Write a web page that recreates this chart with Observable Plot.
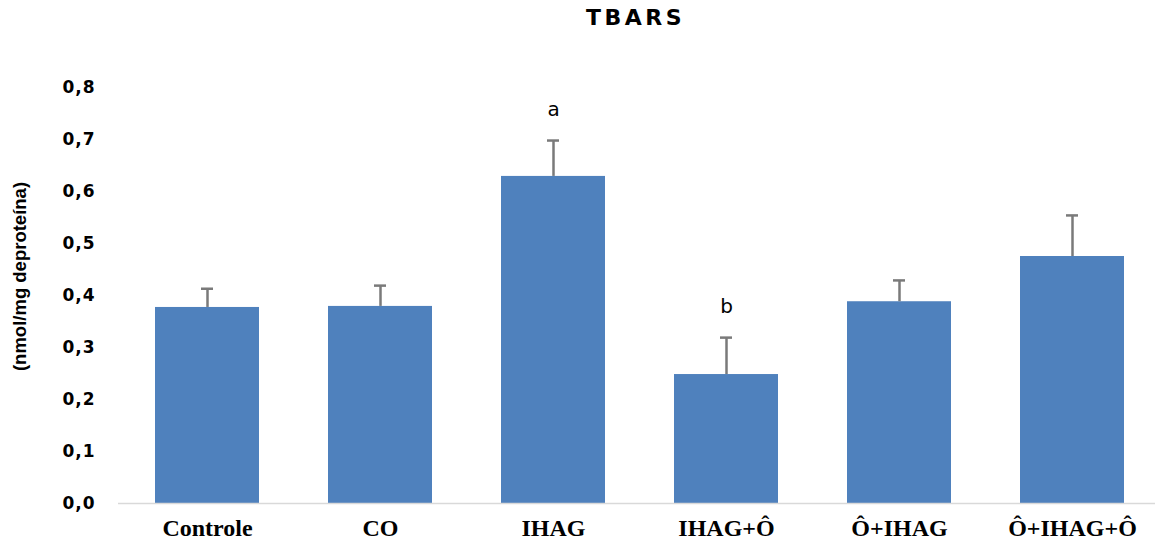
<!DOCTYPE html>
<html>
<head>
<meta charset="utf-8">
<script src="https://cdn.jsdelivr.net/npm/d3@7"></script>
<script src="https://cdn.jsdelivr.net/npm/@observablehq/plot@0.6"></script>
<style>
  html, body { margin: 0; padding: 0; background: #fff; overflow: hidden; }
  #title {
    width: 1155px; height: 40px; line-height: 36px;
    box-sizing: border-box; padding-left: 116px;
    text-align: center;
    font-family: "DejaVu Sans", sans-serif; font-weight: bold; font-size: 22px;
    letter-spacing: 3.5px; color: #000;
  }
  #chart svg { display: block; overflow: visible; }
</style>
</head>
<body>
<div id="title">TBARS</div>
<div id="chart"></div>
<script>
// TBARS per group (nmol/mg de proteína), mean and standard error
const groups = ["Controle", "CO", "IHAG", "IHAG+Ô", "Ô+IHAG", "Ô+IHAG+Ô"];
const means = [0.377, 0.379, 0.629, 0.248, 0.388, 0.475];
const errors = [0.036, 0.040, 0.069, 0.071, 0.041, 0.079];
const signif = ["", "", "a", "b", "", ""];
const yTicks = [0, 0.1, 0.2, 0.3, 0.4, 0.5, 0.6, 0.7, 0.8];
const yLabel = "(nmol/mg deproteína)";

const rows = groups.map((g, i) => ({
  group: g, mean: means[i], top: means[i] + errors[i], letter: signif[i]
}));

const fmt = d => d.toFixed(1).replace(".", ",");

const chart = Plot.plot({
  width: 1155,
  height: 499,
  marginTop: 47,
  marginBottom: 36,
  marginLeft: 118,
  marginRight: 0,
  x: {domain: groups, range: [118, 1160], paddingInner: 0.4, paddingOuter: 0.2, label: null},
  y: {domain: [0, 0.8], label: null},
  marks: [
    Plot.barY(rows, {x: "group", y: "mean", fill: "#4f81bd"}),
    Plot.ruleY([0], {stroke: "#d9d9d9", strokeWidth: 1.5}),
    Plot.ruleX(rows, {x: "group", y1: "mean", y2: "top", stroke: "#7a7a7a", strokeWidth: 2.5}),
    Plot.tickY(rows, {x: "group", y: "top", stroke: "#7a7a7a", strokeWidth: 2.5, insetLeft: 46, insetRight: 46}),
    Plot.text(rows.filter(d => d.letter), {
      x: "group", y: "top", text: "letter", dy: -31,
      fontFamily: "DejaVu Sans", fontSize: 20, fill: "#000"
    }),
    Plot.axisY({
      ticks: yTicks, tickFormat: fmt, tickSize: 0, tickPadding: 23,
      fontFamily: "DejaVu Sans", fontSize: 17, fontWeight: "bold",
      label: null
    }),
    Plot.axisX({
      tickSize: 0, tickPadding: 15,
      fontFamily: "Liberation Serif", fontSize: 24, fontWeight: "bold",
      label: null
    }),
    Plot.text([yLabel], {
      frameAnchor: "left", dx: -98, dy: -19, rotate: -90,
      textAnchor: "middle", lineAnchor: "middle",
      fontFamily: "Liberation Sans", fontWeight: "bold", fontSize: 18.5, fill: "#000"
    })
  ]
});

d3.select(chart).selectAll("[aria-label='y-axis tick label'] text")
  .style("letter-spacing", "1px");
d3.select(chart).style("color", "#000");

document.getElementById("chart").appendChild(chart);
</script>
</body>
</html>
